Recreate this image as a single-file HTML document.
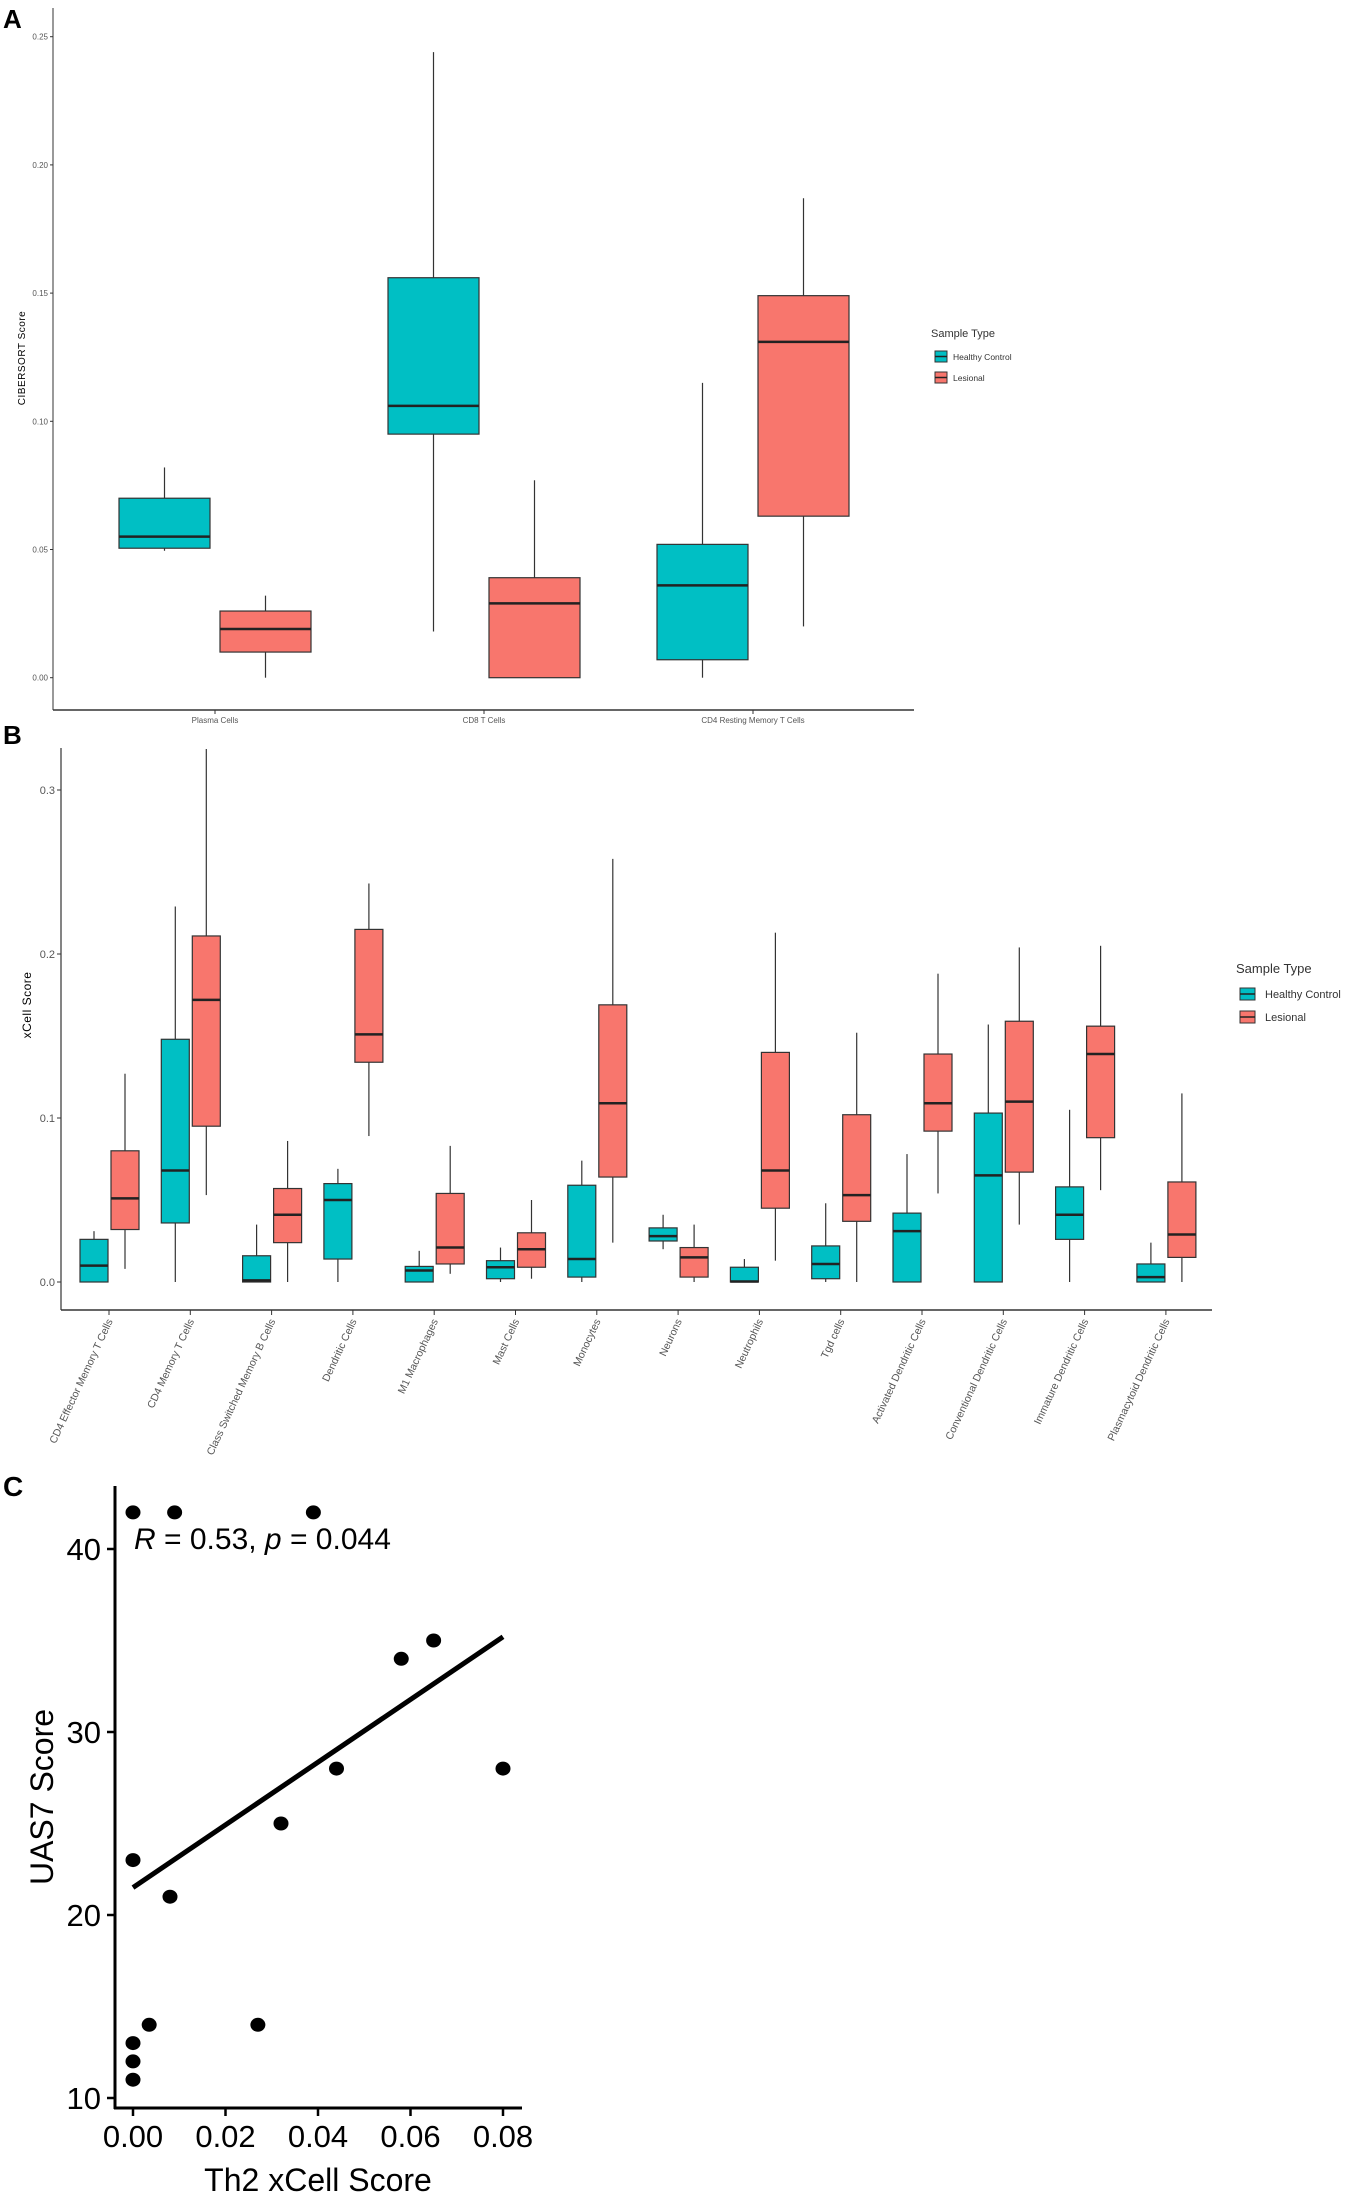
<!DOCTYPE html>
<html><head><meta charset="utf-8">
<style>
body{margin:0;background:#fff;}
svg{display:block;font-family:"Liberation Sans",sans-serif;}
</style></head>
<body>
<svg id="fig" width="1350" height="2204" viewBox="0 0 1350 2204"></svg>
<script>
// ---- Panel A data ----
const aCategories = ["Plasma Cells","CD8  T Cells","CD4  Resting Memory T Cells"];
const aHCMax = [0.082,0.244,0.115], aHCQ3=[0.070,0.156,0.052], aHCMed=[0.055,0.106,0.036], aHCQ1=[0.0505,0.095,0.007], aHCMin=[0.0495,0.018,0.0];
const aLesMax = [0.032,0.077,0.187], aLesQ3=[0.026,0.039,0.149], aLesMed=[0.019,0.029,0.131], aLesQ1=[0.010,0.0,0.063], aLesMin=[0.0,0.0,0.020];
const aTicks = [0,0.05,0.10,0.15,0.20,0.25];
const aTickLabels = ["0.00","0.05","0.10","0.15","0.20","0.25"];
// ---- Panel B data ----
const bCategories = ["CD4  Effector Memory T Cells","CD4  Memory T Cells","Class Switched Memory B Cells","Dendritic Cells","M1 Macrophages","Mast Cells","Monocytes","Neurons","Neutrophils","Tgd cells","Activated Dendritic Cells","Conventional Dendritic Cells","Immature Dendritic Cells","Plasmacytoid Dendritic Cells"];
const bHCMax=[0.031,0.229,0.035,0.069,0.019,0.021,0.074,0.041,0.014,0.048,0.078,0.157,0.105,0.024];
const bHCQ3=[0.026,0.148,0.016,0.060,0.0095,0.013,0.059,0.033,0.009,0.022,0.042,0.103,0.058,0.011];
const bHCMed=[0.010,0.068,0.001,0.050,0.007,0.009,0.014,0.028,0.0003,0.011,0.031,0.065,0.041,0.003];
const bHCQ1=[0,0.036,0,0.014,0,0.002,0.003,0.025,0,0.002,0,0,0.026,0];
const bHCMin=[0,0,0,0,0,0,0,0.020,0,0,0,0,0,0];
const bLesMax=[0.127,0.325,0.086,0.243,0.083,0.050,0.258,0.035,0.213,0.152,0.188,0.204,0.205,0.115];
const bLesQ3=[0.080,0.211,0.057,0.215,0.054,0.030,0.169,0.021,0.140,0.102,0.139,0.159,0.156,0.061];
const bLesMed=[0.051,0.172,0.041,0.151,0.021,0.020,0.109,0.015,0.068,0.053,0.109,0.110,0.139,0.029];
const bLesQ1=[0.032,0.095,0.024,0.134,0.011,0.009,0.064,0.003,0.045,0.037,0.092,0.067,0.088,0.015];
const bLesMin=[0.008,0.053,0,0.089,0.005,0.002,0.024,0,0.013,0,0.054,0.035,0.056,0];
const bTicks=[0,0.1,0.2,0.3];
const bTickLabels=["0.0","0.1","0.2","0.3"];
// ---- Panel C data ----
const cX=[0,0.009,0.039,0,0.008,0.0035,0,0,0,0.027,0.032,0.044,0.058,0.065,0.08];
const cY=[42,42,42,23,21,14,13,12,11,14,25,28,34,35,28];
const cFitX=[0,0.08], cFitY=[21.5,35.2];
const cXTicks=[0,0.02,0.04,0.06,0.08], cXTickLabels=["0.00","0.02","0.04","0.06","0.08"];
const cYTicks=[10,20,30,40], cYTickLabels=["10","20","30","40"];

const NS="http://www.w3.org/2000/svg";
const svg=document.getElementById('fig');
function mk(tag,attrs,parent,text){const e=document.createElementNS(NS,tag);for(const k in attrs)e.setAttribute(k,attrs[k]);if(text!==undefined)e.textContent=text;(parent||svg).appendChild(e);return e;}
const TEAL="#00BFC4", RED="#F8766D";

function boxPlot(g,cx,w,max,q3,med,q1,min,y,col,lw,name){
  const grp=mk('g',{},g);
  
  
  mk('line',{x1:cx,x2:cx,y1:y(max),y2:y(q3),stroke:'#333','stroke-width':1.2},grp);
  mk('line',{x1:cx,x2:cx,y1:y(q1),y2:y(min),stroke:'#333','stroke-width':1.2},grp);
  mk('rect',{x:cx-w/2,y:y(q3),width:w,height:Math.max(0.5,y(q1)-y(q3)),fill:col,stroke:'#333','stroke-width':1.2},grp);
  mk('line',{x1:cx-w/2,x2:cx+w/2,y1:y(med),y2:y(med),stroke:'#222','stroke-width':lw},grp);
}

// ===== Panel A =====
(function(){
  const g=mk('g',{});
  
  
  const t=mk('text',{x:3,y:28,'font-size':26,'font-weight':'bold'},g,'A');
  
  const y=v=>677.7-v/0.25*641;
  const x=i=>215+i*269;
  mk('line',{x1:53,x2:53,y1:8,y2:710,stroke:'#333','stroke-width':1},g);
  mk('line',{x1:53,x2:914,y1:710,y2:710,stroke:'#333','stroke-width':1.5},g);
  aTicks.forEach((v,i)=>{
    mk('line',{x1:50,x2:53,y1:y(v),y2:y(v),stroke:'#333'},g);
    const l=mk('text',{x:48,y:y(v)+3,'font-size':8,fill:'#555','text-anchor':'end'},g,aTickLabels[i]);
    
  });
  aCategories.forEach((c,i)=>{
    mk('line',{x1:x(i),x2:x(i),y1:710,y2:714,stroke:'#333'},g);
    const l=mk('text',{x:x(i),y:723,'font-size':8,fill:'#555','text-anchor':'middle'},g,c);
    
    boxPlot(g,x(i)-50.5,91,aHCMax[i],aHCQ3[i],aHCMed[i],aHCQ1[i],aHCMin[i],y,TEAL,2.5,'a-box-healthy');
    boxPlot(g,x(i)+50.5,91,aLesMax[i],aLesQ3[i],aLesMed[i],aLesQ1[i],aLesMin[i],y,RED,2.5,'a-box-lesional');
  });
  const yt=mk('text',{x:0,y:0,'font-size':10,transform:'translate(25,358) rotate(-90)','text-anchor':'middle','letter-spacing':'0.5'},g,'CIBERSORT Score');
  
  const lg=mk('g',{},g);
  
  mk('text',{x:931,y:337,'font-size':11,fill:'#333'},lg,'Sample Type');
  mk('rect',{x:935,y:351,width:12,height:11,fill:TEAL,stroke:'#333'},lg);
  mk('line',{x1:935,x2:947,y1:356.5,y2:356.5,stroke:'#222','stroke-width':1.5},lg);
  mk('text',{x:953,y:360,'font-size':8.5,fill:'#333'},lg,'Healthy Control');
  mk('rect',{x:935,y:372,width:12,height:11,fill:RED,stroke:'#333'},lg);
  mk('line',{x1:935,x2:947,y1:377.5,y2:377.5,stroke:'#222','stroke-width':1.5},lg);
  mk('text',{x:953,y:381,'font-size':8.5,fill:'#333'},lg,'Lesional');
})();

// ===== Panel B =====
(function(){
  const g=mk('g',{});
  
  
  const t=mk('text',{x:3,y:744,'font-size':26,'font-weight':'bold'},g,'B');
  
  const y=v=>1282-v/0.1*164;
  const x=i=>109+i*81.3;
  mk('line',{x1:61,x2:61,y1:748,y2:1310,stroke:'#333','stroke-width':1.2},g);
  mk('line',{x1:61,x2:1212,y1:1310,y2:1310,stroke:'#333','stroke-width':1.5},g);
  bTicks.forEach((v,i)=>{
    mk('line',{x1:57,x2:61,y1:y(v),y2:y(v),stroke:'#333'},g);
    const l=mk('text',{x:55,y:y(v)+4,'font-size':11,fill:'#555','text-anchor':'end'},g,bTickLabels[i]);
    
  });
  bCategories.forEach((c,i)=>{
    mk('line',{x1:x(i),x2:x(i),y1:1310,y2:1315,stroke:'#333'},g);
    const l=mk('text',{x:0,y:0,'font-size':10.5,fill:'#555','text-anchor':'end',transform:`translate(${x(i)+4},${1321}) rotate(-65)`},g,c);
    
    boxPlot(g,x(i)-15,28,bHCMax[i],bHCQ3[i],bHCMed[i],bHCQ1[i],bHCMin[i],y,TEAL,2.5,'b-box-healthy');
    boxPlot(g,x(i)+16,28,bLesMax[i],bLesQ3[i],bLesMed[i],bLesQ1[i],bLesMin[i],y,RED,2.5,'b-box-lesional');
  });
  const yt=mk('text',{x:0,y:0,'font-size':12,transform:'translate(31,1005) rotate(-90)','text-anchor':'middle','letter-spacing':'0.5'},g,'xCell Score');
  
  const lg=mk('g',{},g);
  
  mk('text',{x:1236,y:973,'font-size':13,fill:'#333'},lg,'Sample Type');
  mk('rect',{x:1240,y:988,width:15,height:12,fill:TEAL,stroke:'#333'},lg);
  mk('line',{x1:1240,x2:1255,y1:994,y2:994,stroke:'#222','stroke-width':1.5},lg);
  mk('text',{x:1265,y:998,'font-size':11,fill:'#333'},lg,'Healthy Control');
  mk('rect',{x:1240,y:1011,width:15,height:12,fill:RED,stroke:'#333'},lg);
  mk('line',{x1:1240,x2:1255,y1:1017,y2:1017,stroke:'#222','stroke-width':1.5},lg);
  mk('text',{x:1265,y:1021,'font-size':11,fill:'#333'},lg,'Lesional');
})();

// ===== Panel C =====
(function(){
  const g=mk('g',{});
  
  
  const t=mk('text',{x:3,y:1496,'font-size':28,'font-weight':'bold'},g,'C');
  
  const x=v=>133+v/0.08*370;
  const y=v=>2098-(v-10)/30*549;
  mk('line',{x1:115,x2:115,y1:1486,y2:2109,stroke:'#000','stroke-width':3},g);
  mk('line',{x1:114,x2:522,y1:2108,y2:2108,stroke:'#000','stroke-width':3},g);
  cYTicks.forEach((v,i)=>{
    mk('line',{x1:107,x2:115,y1:y(v),y2:y(v),stroke:'#000','stroke-width':2.5},g);
    const l=mk('text',{x:101,y:y(v)+11,'font-size':31,'text-anchor':'end'},g,cYTickLabels[i]);
    
  });
  cXTicks.forEach((v,i)=>{
    mk('line',{x1:x(v),x2:x(v),y1:2108,y2:2116,stroke:'#000','stroke-width':2.5},g);
    const l=mk('text',{x:x(v),y:2147,'font-size':31,'text-anchor':'middle'},g,cXTickLabels[i]);
    
  });
  const fit=mk('line',{x1:x(cFitX[0]),y1:y(cFitY[0]),x2:x(cFitX[1]),y2:y(cFitY[1]),stroke:'#000','stroke-width':5},g);
  
  cX.forEach((v,i)=>{
    const p=mk('ellipse',{cx:x(v),cy:y(cY[i]),rx:7.5,ry:7,fill:'#000'},g);
    
  });
  const an=mk('text',{x:134,y:1549,'font-size':30},g);
  
  mk('tspan',{'font-style':'italic'},an,'R');
  mk('tspan',{},an,' = 0.53, ');
  mk('tspan',{'font-style':'italic'},an,'p');
  mk('tspan',{},an,' = 0.044');
  const yt=mk('text',{x:0,y:0,'font-size':32,transform:'translate(53,1797) rotate(-90)','text-anchor':'middle'},g,'UAS7 Score');
  
  const xt=mk('text',{x:318,y:2191,'font-size':32,'text-anchor':'middle'},g,'Th2 xCell Score');
  
})();
</script>
</body></html>
